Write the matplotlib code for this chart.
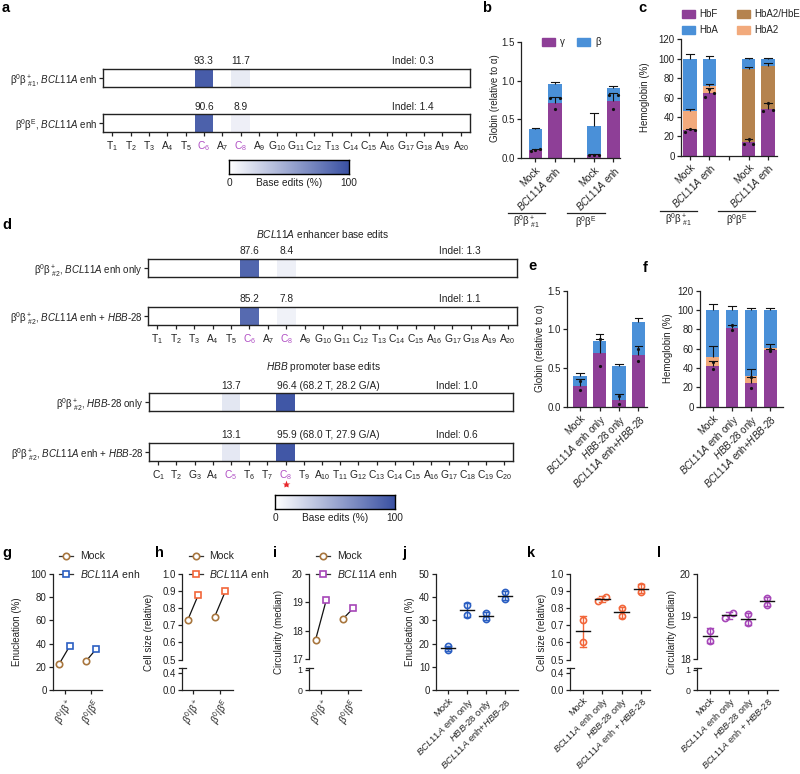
import numpy as np
import matplotlib
matplotlib.use('Agg')
import matplotlib.pyplot as plt
from matplotlib.colors import LinearSegmentedColormap
from matplotlib.lines import Line2D
from matplotlib.patches import Rectangle

plt.rcParams.update({
    'font.family': ['Liberation Sans', 'DejaVu Sans'],
    'font.size': 7,
    'mathtext.fontset': 'custom',
    'mathtext.rm': 'Liberation Sans',
    'mathtext.it': 'Liberation Sans:italic',
    'mathtext.bf': 'Liberation Sans:bold',
    'mathtext.sf': 'Liberation Sans',
    'axes.linewidth': 0.9,
    'text.color': '#222222',
    'xtick.color': '#222222',
    'ytick.color': '#222222',
})

# ---------------------------------------------------------------- data
seq_enh = ['T', 'T', 'T', 'A', 'T', 'C', 'A', 'C', 'A', 'G',
           'G', 'C', 'T', 'C', 'C', 'A', 'G', 'G', 'A', 'A']
seq_hbb = ['C', 'T', 'G', 'A', 'C', 'T', 'T', 'C', 'T', 'A',
           'T', 'G', 'C', 'C', 'C', 'A', 'G', 'C', 'C', 'C']
hi_enh = [6, 8]
hi_hbb = [5, 8]

a_labels = [r'β$^0$β$^+_{\ \#1}$, $\it{BCL11A}$ enh',
            r'β$^0$β$^{\mathrm{E}}$, $\it{BCL11A}$ enh']
a_edits = [
    [0, 0, 0, 0, 0, 93.3, 0, 11.7, 0, 0, 0, 0, 0, 0, 0, 0, 0, 0, 0, 0],
    [0, 0, 0, 0, 0, 90.6, 0, 8.9, 0, 0, 0, 0, 0, 0, 0, 0, 0, 0, 0, 0],
]
a_indel = [0.3, 1.4]

d_enh_labels = [r'β$^0$β$^+_{\ \#2}$, $\it{BCL11A}$ enh only',
                r'β$^0$β$^+_{\ \#2}$, $\it{BCL11A}$ enh + $\it{HBB}$-28']
d_enh_edits = [
    [0, 0, 0, 0, 0, 87.6, 0, 8.4, 0, 0, 0, 0, 0, 0, 0, 0, 0, 0, 0, 0],
    [0, 0, 0, 0, 0, 85.2, 0, 7.8, 0, 0, 0, 0, 0, 0, 0, 0, 0, 0, 0, 0],
]
d_enh_indel = [1.3, 1.1]

d_hbb_labels = [r'β$^0$β$^+_{\ \#2}$, $\it{HBB}$-28 only',
                r'β$^0$β$^+_{\ \#2}$, $\it{BCL11A}$ enh + $\it{HBB}$-28']
d_hbb_edits = [
    [0, 0, 0, 0, 13.7, 0, 0, 96.4, 0, 0, 0, 0, 0, 0, 0, 0, 0, 0, 0, 0],
    [0, 0, 0, 0, 13.1, 0, 0, 95.9, 0, 0, 0, 0, 0, 0, 0, 0, 0, 0, 0, 0],
]
d_hbb_c8_detail = ['(68.2 T, 28.2 G/A)', '(68.0 T, 27.9 G/A)']
d_hbb_indel = [1.0, 0.6]

# panel b
b_cats = ['Mock', r'$\it{BCL11A}$ enh', 'Mock', r'$\it{BCL11A}$ enh']
b_gamma = [0.11, 0.71, 0.04, 0.74]
b_gamma_err = [0.01, 0.08, 0.01, 0.10]
b_gamma_dots = [[0.10, 0.11, 0.12], [0.77, 0.63, 0.77],
                [0.04, 0.04, 0.04], [0.81, 0.64, 0.81]]
b_beta = [0.27, 0.25, 0.37, 0.17]
b_beta_err = [0.005, 0.02, 0.17, 0.02]
grp_labels = [r'β$^0$β$^+_{\ \#1}$', r'β$^0$β$^{\mathrm{E}}$']

# panel c
c_hbf = [26, 65, 14, 48]
c_hbf_err = [2, 5, 3, 6]
c_hbf_dots = [[24, 28, 27], [61, 69, 65], [12, 17, 12], [46, 54, 47]]
c_hba2 = [20, 7, 0, 0]
c_hba2_err = [2, 2, 0, 0]
c_hbe = [0, 0, 75, 44]
c_hbe_err = [0, 0, 2, 4]
c_hba = [54, 28, 11, 8]
c_hba_err = [5, 3, 1, 1]

# panels e / f
ef_cats = ['Mock', r'$\it{BCL11A}$ enh only', r'$\it{HBB}$-28 only',
           r'$\it{BCL11A}$ enh+$\it{HBB}$-28']
e_gamma = [0.27, 0.70, 0.09, 0.67]
e_gamma_err = [0.09, 0.17, 0.07, 0.11]
e_gamma_dots = [[0.33, 0.21], [0.87, 0.53], [0.14, 0.03], [0.75, 0.59]]
e_beta = [0.13, 0.15, 0.44, 0.42]
e_beta_err = [0.03, 0.09, 0.02, 0.06]

f_hbf = [42, 81.5, 25, 58.5]
f_hbf_err = [5.5, 3.5, 6, 1]
f_hbf_dots = [[46.5, 38.5], [84.5, 79], [31, 19], [59.5, 57.5]]
f_hba2 = [9, 0, 7, 2.5]
f_hba2_err = [12, 0, 6.5, 4]
f_hba = [49, 18.5, 68, 39]
f_hba_err = [6, 4, 2, 2.5]

# panels g / h / i
ghi_cats = [r'$\beta^0/\beta^+$', r'$\beta^0/\beta^E$']
g_mock = [22.7, 24.7]
g_enh = [38.2, 35.6]
h_mock = [0.73, 0.75]
h_enh = [0.88, 0.90]
i_mock = [17.67, 18.40]
i_enh = [19.09, 18.80]

# panels j / k / l
j_cats = ['Mock', r'$\it{BCL11A}$ enh only', r'$\it{HBB}$-28 only',
          r'$\it{BCL11A}$ enh+$\it{HBB}$-28']
kl_cats = ['Mock', r'$\it{BCL11A}$ enh only', r'$\it{HBB}$-28 only',
           r'$\it{BCL11A}$ enh + $\it{HBB}$-28']
j_vals = [[17.2, 18.8], [36.6, 32.3], [33.0, 30.5], [42.2, 39.2]]
k_vals = [[0.73, 0.60], [0.84, 0.864], [0.80, 0.752], [0.932, 0.897]]
l_vals = [[18.67, 18.43], [18.97, 19.09], [19.05, 18.85], [19.43, 19.28]]

# ---------------------------------------------------------------- style
PURPLE = '#8e3f97'
BLUE = '#4a90d8'
HBA2 = '#f2aa7c'
HBE = '#b5834e'
SEQ_HI = '#b04fc4'
MOCK_C = '#a8763e'
J_C = '#2b5fc2'
K_C = '#f2663a'
L_C = '#a646b8'
LW = 0.9
CMAP = LinearSegmentedColormap.from_list('be', ['#ffffff', '#3a51a3'])

W, H = 800, 774
fig = plt.figure(figsize=(W / 100, H / 100), dpi=100)


def pax(l, t, r, b):
    return fig.add_axes([l / W, 1 - b / H, (r - l) / W, (b - t) / H])


def ftext(x, y, s, **kw):
    kw.setdefault('ha', 'center')
    kw.setdefault('va', 'center')
    return fig.text(x / W, 1 - y / H, s, **kw)


def fline(xs, ys, **kw):
    fig.add_artist(Line2D([x / W for x in xs], [1 - y / H for y in ys],
                          transform=fig.transFigure, **kw))


def style(ax):
    for s in ['top', 'right']:
        ax.spines[s].set_visible(False)
    for s in ['left', 'bottom']:
        ax.spines[s].set_linewidth(LW)
        ax.spines[s].set_color('#222222')
    ax.tick_params(direction='out', length=3, width=LW, pad=1.5, labelsize=7)


# ---------------------------------------------------------------- heat bars
def heat_bar(box, edits, rowlabel, indel, seq=None, hi=(), detail=None, star=None):
    l, t, r, b = box
    ax = pax(l, t, r, b)
    vals = np.asarray(edits, float)
    n = len(vals)
    ax.imshow(vals[None, :], cmap=CMAP, vmin=0, vmax=100, aspect='auto',
              extent=(-0.5, n - 0.5, 0, 1), interpolation='nearest')
    ax.set_xlim(-0.5, n - 0.5)
    ax.set_ylim(0, 1)
    for s in ax.spines.values():
        s.set_linewidth(1.0)
        s.set_color('#222222')
    ax.set_yticks([0.5])
    ax.set_yticklabels([rowlabel])
    ax.tick_params(axis='y', length=3, width=LW, pad=1, labelsize=7)
    for i, v in enumerate(vals):
        if v <= 0:
            continue
        if detail is not None and i == int(np.argmax(vals)):
            ax.annotate(f'{v:.1f} {detail}', xy=(i - 0.45, 1),
                        xycoords=('data', 'axes fraction'), xytext=(0, 5.4),
                        textcoords='offset points', ha='left', va='center',
                        fontsize=7.3)
        else:
            ax.annotate(f'{v:.1f}', xy=(i, 1), xycoords=('data', 'axes fraction'),
                        xytext=(0, 5.4), textcoords='offset points',
                        ha='center', va='center', fontsize=7.3)
    ax.annotate(f'Indel: {indel:.1f}', xy=(16.4, 1),
                xycoords=('data', 'axes fraction'), xytext=(0, 5.4),
                textcoords='offset points', ha='center', va='center', fontsize=7.3)
    if seq is not None:
        ax.set_xticks(range(n))
        ax.set_xticklabels([f'{s}$_{{{k + 1}}}$' for k, s in enumerate(seq)])
        ax.tick_params(axis='x', length=3, width=LW, pad=2, labelsize=7.4)
        for k, tl in enumerate(ax.get_xticklabels()):
            if (k + 1) in hi:
                tl.set_color(SEQ_HI)
    else:
        ax.set_xticks([])
    if star is not None:
        ax.plot([star - 1], [-1.3], transform=ax.get_xaxis_transform(),
                marker='*', ms=6, color='#e8262b', clip_on=False, mec='none')
    return ax


def colorbar(l, t, r, b, ytxt):
    ax = pax(l, t, r, b)
    ax.imshow(np.linspace(0, 100, 256)[None, :], cmap=CMAP, vmin=0, vmax=100,
              aspect='auto', extent=(0, 100, 0, 1))
    ax.set_xticks([])
    ax.set_yticks([])
    for s in ax.spines.values():
        s.set_linewidth(1.0)
    ftext(l, ytxt, '0', fontsize=7.3)
    ftext(r, ytxt, '100', fontsize=7.3)
    ftext(l + 0.5 * (r - l), ytxt, 'Base edits (%)', fontsize=7.3)


# panel a
heat_bar((103, 69, 470, 87), a_edits[0], a_labels[0], a_indel[0])
heat_bar((103, 114, 470, 132), a_edits[1], a_labels[1], a_indel[1],
         seq=seq_enh, hi=hi_enh)
colorbar(229, 160, 349, 174, 183)

# panel d
ftext(323, 234, r'$\it{BCL11A}$ enhancer base edits', fontsize=7.3)
heat_bar((148, 259, 517, 277), d_enh_edits[0], d_enh_labels[0], d_enh_indel[0])
heat_bar((148, 307, 517, 325), d_enh_edits[1], d_enh_labels[1], d_enh_indel[1],
         seq=seq_enh, hi=hi_enh)
ftext(323, 367, r'$\it{HBB}$ promoter base edits', fontsize=7.3)
heat_bar((149, 393, 513, 411), d_hbb_edits[0], d_hbb_labels[0], d_hbb_indel[0],
         detail=d_hbb_c8_detail[0])
heat_bar((149, 443, 513, 461), d_hbb_edits[1], d_hbb_labels[1], d_hbb_indel[1],
         seq=seq_hbb, hi=hi_hbb, detail=d_hbb_c8_detail[1], star=8)
colorbar(275, 495, 395, 509, 518)


# ---------------------------------------------------------------- stacked bars
def errtick(ax, x, top, err, hw=0.2):
    ax.plot([x, x], [top, top + err], color='#111111', lw=0.8, zorder=4,
            solid_capstyle='butt')
    ax.plot([x - hw, x + hw], [top + err] * 2, color='#111111', lw=0.8, zorder=4)


def stacked(ax, xs, segs, errs, cols, width):
    bottom = np.zeros(len(xs))
    for seg, err, col in zip(segs, errs, cols):
        seg = np.asarray(seg, float)
        ax.bar(xs, seg, width, bottom=bottom, color=col, edgecolor='none', zorder=2)
        top = bottom + seg
        for x, tp, e, s in zip(xs, top, err, seg):
            if s > 0 and e > 0:
                errtick(ax, x, tp, e)
        bottom = top


def dots(ax, xs, dot_lists, spread):
    for x, dl in zip(xs, dot_lists):
        n = len(dl)
        offs = np.linspace(-spread, spread, n) if n > 2 else np.zeros(n)
        ax.plot(x + offs, dl, 'o', color='#111111', ms=2.3, mec='none', zorder=5)


def group_lines(spans, y_line, y_txt):
    for (x0, x1), lab in zip(spans, grp_labels):
        fline([x0, x1], [y_line, y_line], color='#222222', lw=0.9)
        ftext((x0 + x1) / 2, y_txt, lab)


def rot_labels(ax, labels, rot=45, size=7):
    ax.set_xticklabels(labels, rotation=rot, ha='right', va='top',
                       rotation_mode='anchor', fontsize=size)


# panel b
axb = pax(521, 41.7, 620, 158.3)
style(axb)
xb = np.array([0, 1, 3, 4])
stacked(axb, xb, [b_gamma, b_beta], [b_gamma_err, b_beta_err], [PURPLE, BLUE], 0.68)
dots(axb, xb, b_gamma_dots, 0.25)
axb.set_xlim(-0.74, 4.34)
axb.set_ylim(0, 1.5)
axb.set_yticks([0, 0.5, 1.0, 1.5])
axb.set_yticklabels(['0.0', '0.5', '1.0', '1.5'])
axb.set_xticks([0, 1, 2, 3, 4])
rot_labels(axb, [b_cats[0], b_cats[1], '', b_cats[2], b_cats[3]])
ftext(495, 98, 'Globin (relative to α)', rotation=90)
group_lines([(508, 545), (567, 605)], 213, 222)
for (x0, col, lab) in [(542, PURPLE, 'γ'), (577, BLUE, 'β')]:
    fig.add_artist(Rectangle((x0 / W, 1 - 45.5 / H), 13 / W, 7 / H,
                             transform=fig.transFigure, color=col))
    ftext(x0 + 18, 42, lab, ha='left')

# panel c
axc = pax(681, 39.3, 777, 155.7)
style(axc)
stacked(axc, xb, [c_hbf, c_hba2, c_hbe, c_hba],
        [c_hbf_err, c_hba2_err, c_hbe_err, c_hba_err],
        [PURPLE, HBA2, HBE, BLUE], 0.68)
dots(axc, xb, c_hbf_dots, 0.25)
axc.set_xlim(-0.46, 4.46)
axc.set_ylim(0, 120)
axc.set_yticks(range(0, 121, 20))
axc.set_xticks([0, 1, 2, 3, 4])
rot_labels(axc, [b_cats[0], b_cats[1], '', b_cats[2], b_cats[3]])
ftext(645, 97, 'Hemoglobin (%)', rotation=90)
group_lines([(660, 697), (718, 755)], 211, 220)
for (x0, y0, col, lab) in [(682, 14, PURPLE, 'HbF'), (737, 14, HBE, 'HbA2/HbE'),
                           (682, 30, BLUE, 'HbA'), (737, 30, HBA2, 'HbA2')]:
    fig.add_artist(Rectangle((x0 / W, 1 - (y0 + 3.5) / H), 13 / W, 7 / H,
                             transform=fig.transFigure, color=col))
    ftext(x0 + 17, y0, lab, ha='left', fontsize=7)

# panel e
axe = pax(567, 290.7, 647, 406.7)
style(axe)
xe = np.arange(4)
stacked(axe, xe, [e_gamma, e_beta], [e_gamma_err, e_beta_err], [PURPLE, BLUE], 0.68)
dots(axe, xe, e_gamma_dots, 0)
axe.set_xlim(-0.67, 3.44)
axe.set_ylim(0, 1.5)
axe.set_yticks([0, 0.5, 1.0, 1.5])
axe.set_yticklabels(['0.0', '0.5', '1.0', '1.5'])
axe.set_xticks(xe)
rot_labels(axe, ef_cats)
ftext(540, 348, 'Globin (relative to α)', rotation=90)

# panel f
axf = pax(700, 290.7, 783, 406.7)
style(axf)
stacked(axf, xe, [f_hbf, f_hba2, f_hba], [f_hbf_err, f_hba2_err, f_hba_err],
        [PURPLE, HBA2, BLUE], 0.68)
dots(axf, xe, f_hbf_dots, 0)
axf.set_xlim(-0.68, 3.68)
axf.set_ylim(0, 120)
axf.set_yticks(range(0, 121, 20))
axf.set_xticks(xe)
rot_labels(axf, ef_cats)
ftext(668, 348, 'Hemoglobin (%)', rotation=90)


# ---------------------------------------------------------------- paired plots
def broken_axes(l, r, top, up_bot, lo_top, bottom, up_lim, lo_lim,
                up_ticks, up_lbls, lo_ticks, lo_lbls, lo_size=7):
    up = pax(l, top, r, up_bot)
    lo = pax(l, lo_top, r, bottom)
    style(up)
    style(lo)
    up.spines['bottom'].set_visible(False)
    up.set_xticks([])
    up.set_ylim(*up_lim)
    lo.set_ylim(*lo_lim)
    up.set_yticks(up_ticks)
    up.set_yticklabels(up_lbls)
    lo.set_yticks(lo_ticks)
    lo.set_yticklabels(lo_lbls, fontsize=lo_size)
    w = 3.5 / (r - l)
    lo.plot([-w, w], [1, 1], transform=lo.transAxes, color='#222222', lw=LW,
            clip_on=False)
    return up, lo


def paired(ax, mock, enh, col, off=0.2):
    for k in range(len(mock)):
        ax.plot([k - off, k + off], [mock[k], enh[k]], color='#111111', lw=0.9,
                zorder=2)
    ax.plot(np.arange(len(mock)) - off, mock, 'o', mfc='white', mec=MOCK_C,
            mew=1.2, ms=4.6, ls='none', zorder=3, clip_on=False)
    ax.plot(np.arange(len(enh)) + off, enh, 's', mfc='white', mec=col,
            mew=1.2, ms=4.6, ls='none', zorder=3, clip_on=False)


def legend_ghi(xm, xt, col):
    for y, mk, c, lab in [(556, 'o', MOCK_C, 'Mock'),
                          (574, 's', col, r'$\it{BCL11A}$ enh')]:
        fline([xm - 7, xm + 7], [y, y], color='#333333', lw=0.9)
        fig.add_artist(Line2D([xm / W], [1 - y / H], transform=fig.transFigure,
                              marker=mk, mfc='white', mec=c, mew=1.2, ms=4.6))
        ftext(xt, y, lab, ha='left', fontsize=7.5)


# g
axg = pax(53, 574, 102, 690)
style(axg)
paired(axg, g_mock, g_enh, J_C)
axg.set_xlim(-0.44, 1.41)
axg.set_ylim(0, 100)
axg.set_yticks(range(0, 101, 20))
axg.set_xticks([0, 1])
rot_labels(axg, ghi_cats, 60)
ftext(17, 632, 'Enucleation (%)', rotation=90)
legend_ghi(66, 80, J_C)

# h
hup, hlo = broken_axes(182, 233, 574, 659.5, 668, 690, (0.5, 1.0), (0, 0.518),
                       [0.5, 0.6, 0.7, 0.8, 0.9, 1.0],
                       ['0.5', '0.6', '0.7', '0.8', '0.9', '1.0'],
                       [0.0, 0.4], ['0.0', '0.4'])
for a in (hup, hlo):
    a.set_xlim(-0.41, 1.48)
paired(hup, h_mock, h_enh, K_C)
hlo.set_xticks([0, 1])
rot_labels(hlo, ghi_cats, 60)
ftext(149, 632, 'Cell size (relative)', rotation=90)
legend_ghi(196, 209, K_C)

# i
iup, ilo = broken_axes(309, 361, 574, 659, 668, 690, (17, 20), (0, 1.08),
                       [17, 18, 19, 20], ['17', '18', '19', '20'],
                       [0, 1], ['0', '1'], lo_size=6.4)
for a in (iup, ilo):
    a.set_xlim(-0.44, 1.48)
paired(iup, i_mock, i_enh, L_C)
ilo.set_xticks([0, 1])
rot_labels(ilo, ghi_cats, 60)
ftext(279, 632, 'Circularity (median)', rotation=90)
legend_ghi(323, 337, L_C)


# ---------------------------------------------------------------- scatter j/k/l
def scatter_sd(ax, vals, col, jitter):
    for k, (v, jt) in enumerate(zip(vals, jitter)):
        v = np.asarray(v, float)
        m = v.mean()
        sd = v.std(ddof=1)
        xs = k + (np.array([-0.2, 0.2]) if jt else np.zeros(len(v)))
        ax.plot([k, k], [m - sd, m + sd], color=col, lw=1.0, zorder=2)
        for yy in (m - sd, m + sd):
            ax.plot([k - 0.15, k + 0.15], [yy, yy], color=col, lw=1.0, zorder=2)
        ax.plot(xs, v, 'o', mfc='none', mec=col, mew=1.2, ms=4.4, ls='none',
                zorder=3)
        ax.plot([k - 0.38, k + 0.38], [m, m], color='#111111', lw=1.0, zorder=4)


# j
axj = pax(436, 574, 518, 690)
style(axj)
scatter_sd(axj, j_vals, J_C, [0, 0, 0, 0])
axj.set_xlim(-0.63, 3.68)
axj.set_ylim(0, 50)
axj.set_yticks(range(0, 51, 10))
axj.set_xticks(range(4))
rot_labels(axj, j_cats, size=6.8)
ftext(410, 632, 'Enucleation (%)', rotation=90)

# k
kup, klo = broken_axes(570, 650, 574, 659.5, 668, 690, (0.5, 1.0), (0, 0.518),
                       [0.5, 0.6, 0.7, 0.8, 0.9, 1.0],
                       ['0.5', '0.6', '0.7', '0.8', '0.9', '1.0'],
                       [0.0, 0.4], ['0.0', '0.4'])
for a in (kup, klo):
    a.set_xlim(-0.67, 3.47)
scatter_sd(kup, k_vals, K_C, [0, 1, 0, 0])
klo.set_xticks(range(4))
rot_labels(klo, kl_cats, size=6.6)
klo.tick_params(axis='x', pad=1)
ftext(542, 632, 'Cell size (relative)', rotation=90)

# l
lup, llo = broken_axes(697, 778, 574, 659, 668, 690, (18, 20), (0, 1.08),
                       [18, 19, 20], ['18', '19', '20'], [0, 1], ['0', '1'],
                       lo_size=6.4)
for a in (lup, llo):
    a.set_xlim(-0.68, 3.58)
scatter_sd(lup, l_vals, L_C, [0, 1, 0, 0])
llo.set_xticks(range(4))
rot_labels(llo, kl_cats, size=6.6)
llo.tick_params(axis='x', pad=1)
ftext(672, 632, 'Circularity (median)', rotation=90)

# ---------------------------------------------------------------- panel letters
for lab, x, y in [('a', 2, 8), ('b', 482, 8), ('c', 638, 8), ('d', 2, 225),
                  ('e', 528, 266), ('f', 643, 268), ('g', 2, 553), ('h', 155, 553),
                  ('i', 273, 553), ('j', 402, 553), ('k', 527, 553), ('l', 657, 553)]:
    ftext(x, y, lab, ha='left', fontsize=10.5, fontweight='bold', color='black')

fig.savefig('out.png', dpi=100)
